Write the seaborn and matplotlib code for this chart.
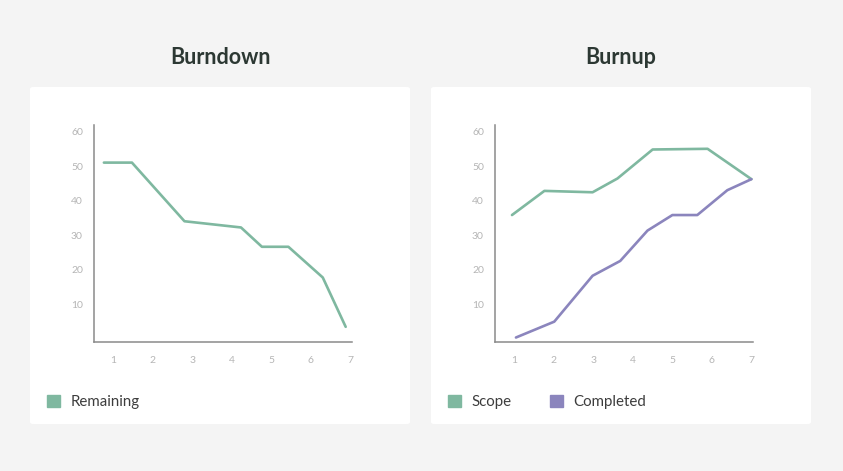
""" Burndown and burnup charts """

import pandas as pd
import matplotlib.pyplot as plt
import seaborn as sns
from matplotlib.patches import FancyBboxPatch, Patch

# Data
burndown_x = [0.76, 1.47, 2.80, 4.23, 4.76, 5.43, 6.30, 6.88]
burndown_y = [51.0, 51.0, 34.0, 32.2, 26.6, 26.6, 17.7, 3.4]

scope_x = [0.94, 1.76, 2.98, 3.61, 4.50, 5.89, 7.0]
scope_y = [35.8, 42.8, 42.4, 46.4, 54.8, 55.0, 46.2]

completed_x = [1.04, 2.01, 2.98, 3.68, 4.37, 5.0, 5.63, 6.39, 7.0]
completed_y = [0.3, 4.9, 18.2, 22.5, 31.3, 35.8, 35.8, 43.0, 46.2]

x_ticks = [1, 2, 3, 4, 5, 6, 7]
y_ticks = [10, 20, 30, 40, 50, 60]

GREEN = "#7fb8a0"
PURPLE = "#8b85bd"
TITLE_COLOR = "#2c3833"
BG = "#f4f4f4"

sns.set_theme(style="white")
plt.rcParams["font.family"] = ["Lato", "DejaVu Sans"]

W, H = 843, 471
fig = plt.figure(figsize=(W / 100, H / 100), dpi=100)
fig.patch.set_facecolor(BG)

# white cards behind each chart
for x0 in (30, 431):
    card = FancyBboxPatch((x0 / W, (H - 424) / H), 380 / W, 337 / H,
                          boxstyle="round,pad=0,rounding_size=0.004",
                          transform=fig.transFigure, facecolor="white",
                          edgecolor="none", zorder=-5)
    fig.patches.append(card)

ax1 = fig.add_axes([94 / W, (H - 342) / H, 258 / W, 217 / H], zorder=2)
ax2 = fig.add_axes([495 / W, (H - 342) / H, 258 / W, 217 / H], zorder=2)

df_down = pd.DataFrame({"day": burndown_x, "points": burndown_y, "series": "Remaining"})
df_up = pd.concat([
    pd.DataFrame({"day": scope_x, "points": scope_y, "series": "Scope"}),
    pd.DataFrame({"day": completed_x, "points": completed_y, "series": "Completed"}),
])

sns.lineplot(data=df_down, x="day", y="points", color=GREEN, linewidth=1.9,
             sort=False, legend=False, ax=ax1)
sns.lineplot(data=df_up, x="day", y="points", hue="series",
             palette={"Scope": GREEN, "Completed": PURPLE}, linewidth=1.9,
             sort=False, legend=False, ax=ax2)

for ax, title, cx in ((ax1, "Burndown", 220.5), (ax2, "Burnup", 621)):
    ax.set_facecolor("none")
    ax.set_xlim(0.51, 7.04)
    ax.set_ylim(-1.0, 61.9)
    ax.set_xticks(x_ticks)
    ax.set_yticks(y_ticks)
    ax.set_xlabel("")
    ax.set_ylabel("")
    sns.despine(ax=ax)
    for side in ("left", "bottom"):
        ax.spines[side].set_color("#8a8a8a")
        ax.spines[side].set_linewidth(1.1)
    ax.tick_params(axis="both", length=0, labelsize=7.5, labelcolor="#b5b5b5")
    ax.tick_params(axis="x", pad=10)
    ax.tick_params(axis="y", pad=8)
    fig.text(cx / W, (H - 58) / H, title, ha="center", va="center",
             fontsize=15.5, fontweight="bold", color=TITLE_COLOR)

leg_kw = dict(frameon=False, fontsize=10.8, handlelength=0.85, handleheight=0.85,
              handletextpad=0.7, borderaxespad=0, borderpad=0,
              labelcolor="#3d3d3d", loc="center left",
              bbox_transform=fig.transFigure)
ax1.legend(handles=[Patch(color=GREEN, label="Remaining")],
           bbox_to_anchor=(47 / W, (H - 402) / H), **leg_kw)
ax2.legend(handles=[Patch(color=GREEN, label="Scope"),
                    Patch(color=PURPLE, label="Completed")],
           bbox_to_anchor=(448 / W, (H - 402) / H), ncol=2, columnspacing=2.6,
           **leg_kw)

fig.savefig("out.png", dpi=100, facecolor=BG)
